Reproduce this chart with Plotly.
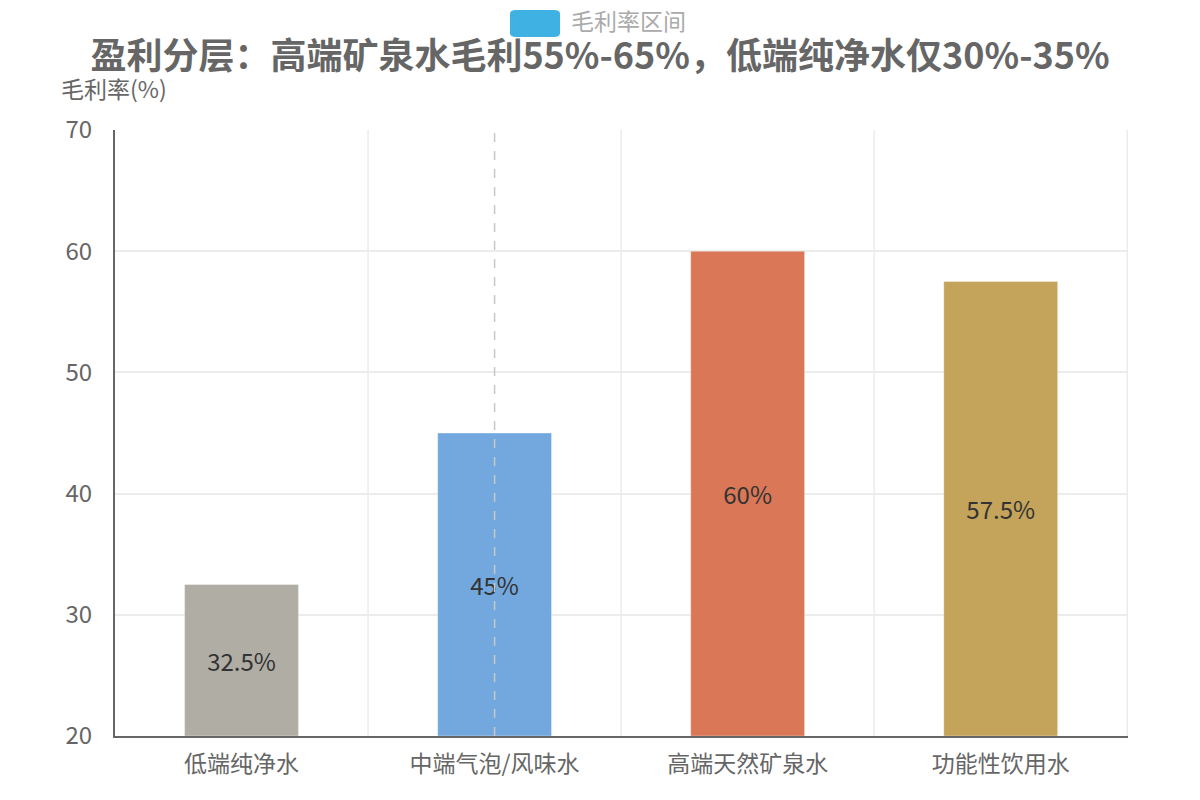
import plotly.graph_objects as go

categories = ["低端纯净水", "中端气泡/风味水", "高端天然矿泉水", "功能性饮用水"]
values = [32.5, 45, 60, 57.5]
labels = ["32.5%", "45%", "60%", "57.5%"]
colors = ["#b0ada5", "#73a8de", "#d97757", "#c4a35a"]
tick_vals = [20, 30, 40, 50, 60, 70]
title_text = "盈利分层：高端矿泉水毛利55%-65%，低端纯净水仅30%-35%"
legend_text = "毛利率区间"
yaxis_name = "毛利率(%)"

FONT = "Noto Sans CJK SC"

fig = go.Figure()
fig.add_trace(go.Bar(
    x=categories, y=[v - 20 for v in values], base=20,
    marker=dict(color=colors, line=dict(color="rgba(255,255,255,0.35)", width=1)),
    width=0.45,
    text=labels, textposition="inside", insidetextanchor="middle",
    textfont=dict(family=FONT, size=24, color="#333333"),
    hoverinfo="skip", showlegend=False,
))

# axis pointer dashed line at second category
fig.add_shape(type="line", xref="x", yref="paper", x0=categories[1], x1=categories[1],
              y0=0, y1=1, line=dict(color="#c8c8c8", width=1.5, dash="dash"), layer="above")

def rrect(x0, y0, x1, y1, r):
    return (f"M{x0+r},{y0} L{x1-r},{y0} Q{x1},{y0} {x1},{y0+r} L{x1},{y1-r} Q{x1},{y1} {x1-r},{y1} "
            f"L{x0+r},{y1} Q{x0},{y1} {x0},{y1-r} L{x0},{y0+r} Q{x0},{y0} {x0+r},{y0} Z")

W, H = 1200, 800
ml, mr, mt, mb = 115, 72, 130, 64
pw, ph = W - ml - mr, H - mt - mb
def px(x):
    return (x - ml) / pw
def py(y):
    return (H - mb - y) / ph

fig.add_shape(type="path", xref="paper", yref="paper",
              path=rrect(px(510), py(37), px(560), py(10), 0.006),
              fillcolor="#3fb1e3", line=dict(width=0))

fig.add_annotation(text=legend_text, xref="paper", yref="paper", x=px(569), y=py(20),
                   xanchor="left", yanchor="middle", showarrow=False,
                   font=dict(family=FONT, size=23, color="#aaaaaa"))

fig.add_annotation(text=yaxis_name, xref="paper", yref="paper", x=px(59), y=py(88),
                   xanchor="left", yanchor="middle", showarrow=False,
                   font=dict(family=FONT, size=23, color="#666666"))

fig.update_layout(
    width=W, height=H,
    margin=dict(l=ml, r=mr, t=mt, b=mb, pad=0),
    paper_bgcolor="white", plot_bgcolor="white",
    title=dict(text=f"<b>{title_text}</b>", x=0.5, xanchor="center", xref="container",
               y=1 - 56 / H, yanchor="middle",
               font=dict(family=FONT, size=36, color="#666666")),
    font=dict(family=FONT),
    bargap=0.55,
    xaxis=dict(
        showline=True, linecolor="#666666", linewidth=2,
        showgrid=False, ticks="", tickfont=dict(family=FONT, size=23, color="#666666"),
        ticklabelstandoff=6, fixedrange=True,
    ),
    yaxis=dict(
        range=[20, 70], tickvals=tick_vals, showline=True, linecolor="#666666", linewidth=2,
        showgrid=True, gridcolor="#ececec", gridwidth=1.5, zeroline=False,
        ticks="", tickfont=dict(family=FONT, size=24, color="#666666"),
        ticklabelstandoff=16,
    ),
)

for i in range(1, len(categories) + 1):
    fig.add_shape(type="line", xref="x", yref="paper", x0=i - 0.5, x1=i - 0.5, y0=0, y1=1,
                  line=dict(color="#ececec", width=1.5), layer="below")

fig.write_html("out.html")
